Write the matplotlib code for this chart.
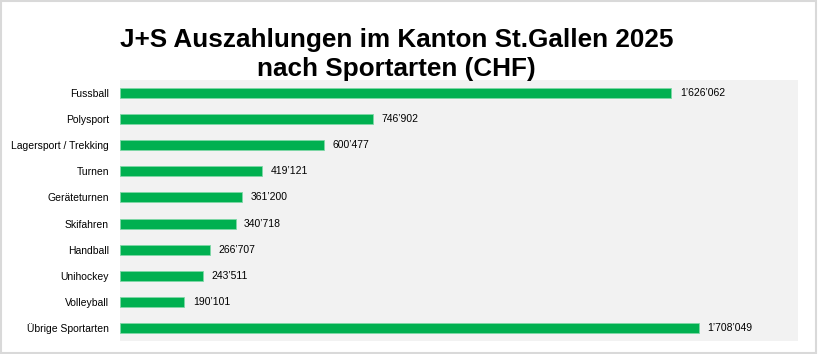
import matplotlib.pyplot as plt
from matplotlib.patches import Rectangle

# J+S Auszahlungen nach Sportart (CHF)
sportarten = ["Fussball", "Polysport", "Lagersport / Trekking", "Turnen",
              "Geräteturnen", "Skifahren", "Handball", "Unihockey",
              "Volleyball", "Übrige Sportarten"]
betraege = [1626062, 746902, 600477, 419121, 361200,
            340718, 266707, 243511, 190101, 1708049]


def chf(v):
    return f"{v:,}".replace(",", "\u2019")


plt.rcParams['font.family'] = ['Liberation Sans', 'DejaVu Sans']

fig = plt.figure(figsize=(8.18, 3.54), dpi=100)
ax = fig.add_axes([0.1467, 0.0367, 0.8289, 0.7373])
ax.set_facecolor("#F2F2F2")

pos = list(range(len(sportarten)))
ax.barh(pos, betraege, height=0.38, color="#00B050",
        edgecolor="#7FD8A7", linewidth=0.6)
for p, v in zip(pos, betraege):
    ax.text(v + 25000, p, chf(v), va="center", ha="left", fontsize=7.5)

ax.set_xlim(0, 2000000)
ax.set_ylim(len(sportarten) - 0.5, -0.5)
ax.set_yticks(pos)
ax.set_yticklabels(sportarten, fontsize=7.5)
ax.set_xticks([])
ax.tick_params(axis="y", length=0, pad=8)
for s in ax.spines.values():
    s.set_visible(False)

fig.text(0.485, 0.847, "J+S Auszahlungen im Kanton St.Gallen 2025\nnach Sportarten (CHF)",
         ha="center", va="center", fontsize=18.8, fontweight="bold", linespacing=1.25)

# heller Rahmen um die ganze Grafik
fig.patches.append(Rectangle((0.001, 0.002), 0.997, 0.995, transform=fig.transFigure,
                             fill=False, edgecolor="#D9D9D9", linewidth=1.5))

fig.savefig("out.png", dpi=100)
